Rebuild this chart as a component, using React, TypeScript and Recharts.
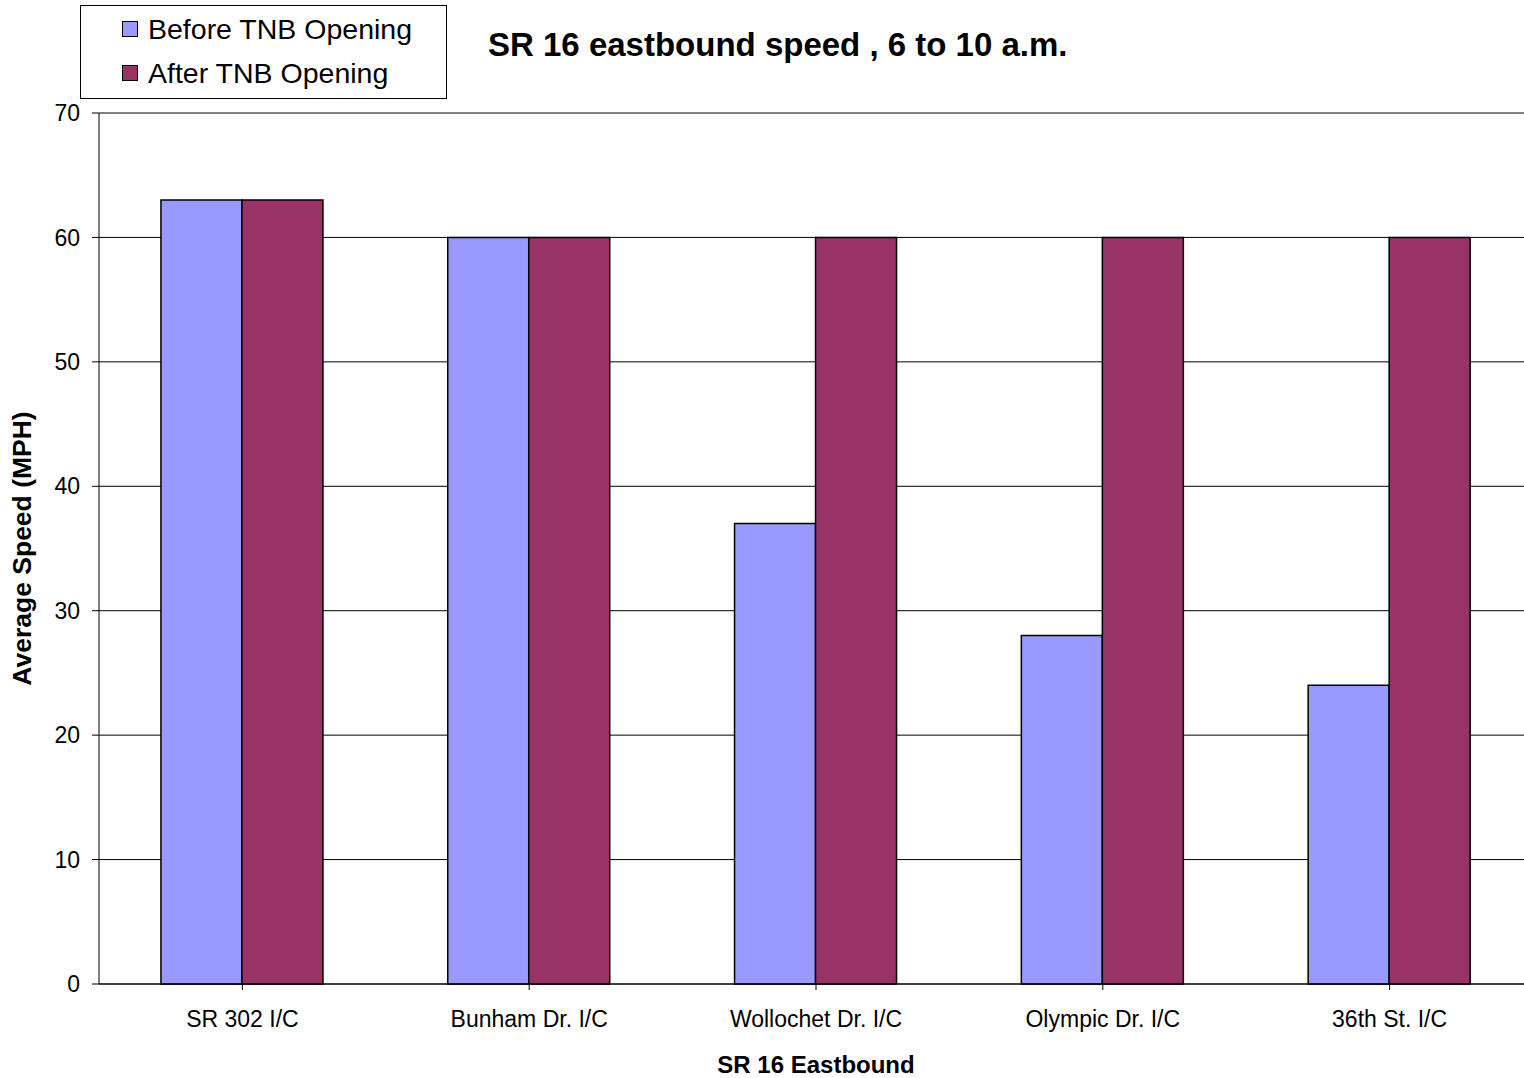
import React from "react";
import { BarChart, Bar, XAxis, YAxis, CartesianGrid, Label } from "recharts";

const categories = ["SR 302 I/C", "Bunham Dr. I/C", "Wollochet Dr. I/C", "Olympic Dr. I/C", "36th St. I/C"];
const beforeSpeeds = [63, 60, 37, 28, 24];
const afterSpeeds = [63, 60, 60, 60, 60];
const yTicks = [0, 10, 20, 30, 40, 50, 60, 70];

const BEFORE = "#9999FF";
const AFTER = "#993366";
const FONT = '"Liberation Sans", Arial, sans-serif';

const data = categories.map((name, i) => ({
  name,
  before: beforeSpeeds[i],
  after: afterSpeeds[i],
}));

// legend drawn as a plain box so it does not steal plot height
function LegendBox() {
  const rows = [
    { label: "Before TNB Opening", color: BEFORE },
    { label: "After TNB Opening", color: AFTER },
  ];
  return (
    <div
      style={{
        position: "absolute",
        left: 80,
        top: 5,
        width: 367,
        height: 94,
        boxSizing: "border-box",
        border: "1px solid #000",
        background: "#fff",
        paddingTop: 1,
        fontFamily: FONT,
      }}
    >
      {rows.map((r) => (
        <div key={r.label} style={{ display: "flex", alignItems: "center", height: 44 }}>
          <span
            style={{
              display: "inline-block",
              width: 14,
              height: 14,
              marginLeft: 41,
              marginRight: 10,
              background: r.color,
              border: "1.5px solid #000",
            }}
          />
          <span style={{ fontSize: 28.5, color: "#000" }}>{r.label}</span>
        </div>
      ))}
    </div>
  );
}

export default function App() {
  return (
    <div style={{ position: "absolute", left: 0, top: 0, width: 1540, height: 1078, background: "#fff", fontFamily: FONT }}>
      <BarChart
        width={1540}
        height={1078}
        data={data}
        margin={{ top: 113, right: 7, left: 0, bottom: 0 }}
        barCategoryGap="21.6%"
        barGap={0}
      >
        <CartesianGrid vertical={false} stroke="#000" strokeWidth={1} />
        <XAxis
          dataKey="name"
          height={94}
          stroke="#000"
          tickSize={6}
          tickMargin={21}
          tick={{ fontSize: 23, fill: "#000", fontFamily: FONT }}
          interval={0}
        >
          <Label
            value="SR 16 Eastbound"
            position="insideBottom"
            offset={5}
            style={{ fontSize: 24, fontWeight: "bold", fill: "#000", fontFamily: FONT }}
          />
        </XAxis>
        <YAxis
          width={99}
          domain={[0, 70]}
          ticks={yTicks}
          stroke="#000"
          tickSize={7}
          tickMargin={12}
          tick={{ fontSize: 23, fill: "#000", fontFamily: FONT }}
        >
          <Label
            value="Average Speed (MPH)"
            angle={-90}
            position="insideLeft"
            offset={22}
            style={{ textAnchor: "middle", fontSize: 26.5, fontWeight: "bold", fill: "#000", fontFamily: FONT }}
          />
        </YAxis>
        <Bar dataKey="before" name="Before TNB Opening" fill={BEFORE} stroke="#000" strokeWidth={1.5} isAnimationActive={false} />
        <Bar dataKey="after" name="After TNB Opening" fill={AFTER} stroke="#000" strokeWidth={1.5} isAnimationActive={false} />
      </BarChart>
      <LegendBox />
      <div
        style={{
          position: "absolute",
          left: 488,
          top: 28,
          fontSize: 33,
          lineHeight: 1,
          fontWeight: "bold",
          whiteSpace: "nowrap",
          color: "#000",
        }}
      >
        SR 16 eastbound speed , 6 to 10 a.m.
      </div>
    </div>
  );
}
